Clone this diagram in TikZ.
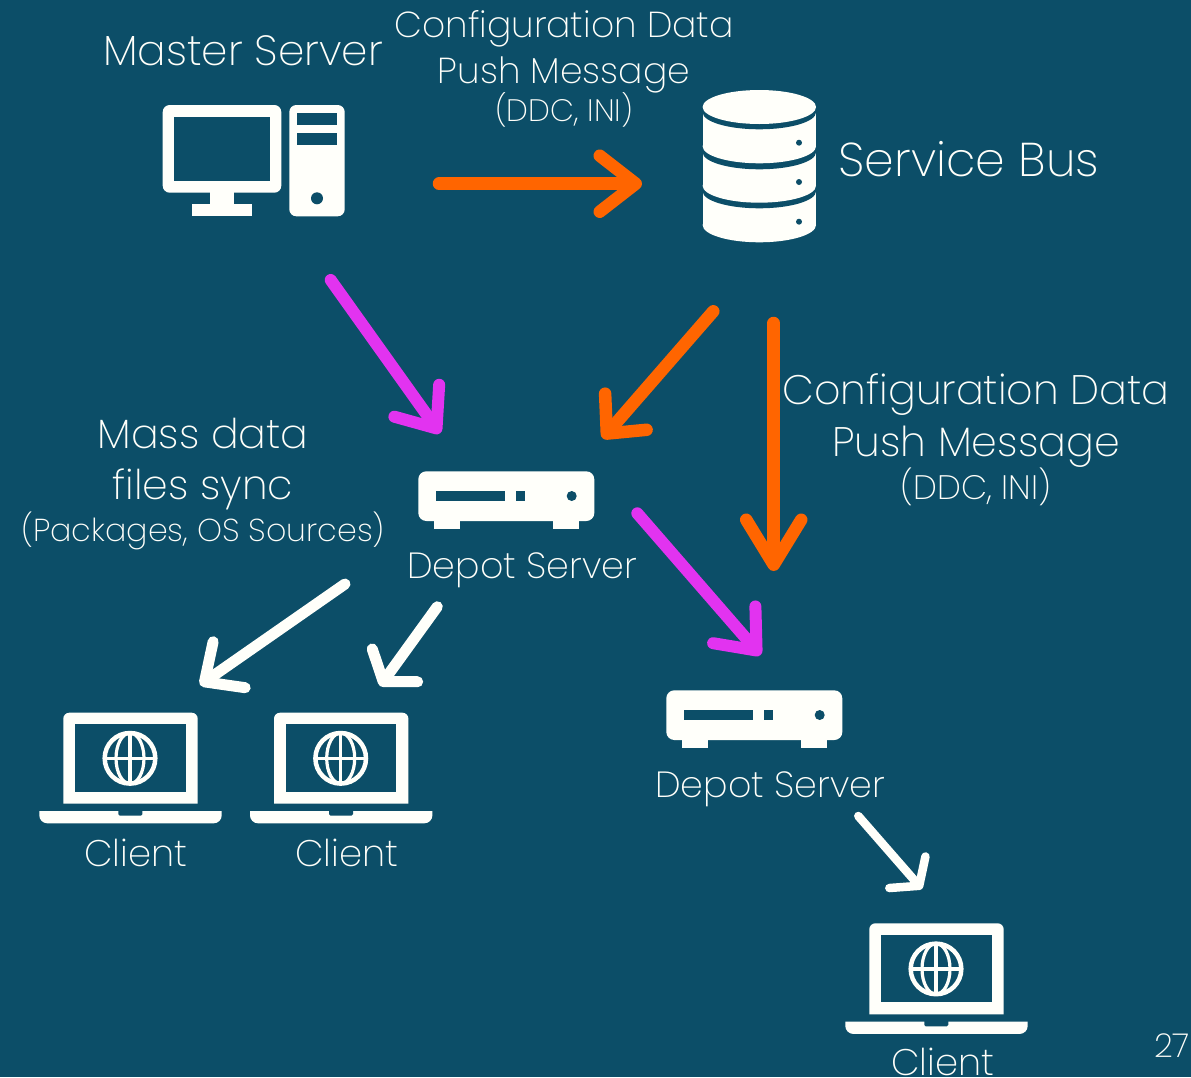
\documentclass[tikz,border=0pt]{standalone}
\usepackage{fontspec}
\setmainfont{Poppins ExtraLight}
\usetikzlibrary{arrows.meta}
\definecolor{bg}{HTML}{0C4E68}
\definecolor{ink}{HTML}{FFFFFA}
\definecolor{org}{HTML}{FF6500}
\definecolor{mag}{HTML}{E233F0}
\tikzset{
  lbl/.style={text=ink,align=center,inner sep=0pt,font=\fontsize{#1}{#1}\selectfont},
  iconbox/.style n args={2}{inner sep=0pt,minimum width=#1,minimum height=#2},
  conn/.style n args={4}{draw=#1,line width=#4,line cap=round,-{Straight Barb[length=#2,width=#3,line width=#4,round]}},
  ink fill/.style={fill=ink,draw=none},
  hole/.style={fill=bg,draw=none},
}
\newcommand\depoticon[1]{\begin{scope}[shift={#1}]
  \fill[ink fill] (434,515) rectangle (460.3,529);
  \fill[ink fill] (552.7,515) rectangle (578.7,529);
  \fill[ink fill,rounded corners=8pt] (418.3,471.3) rectangle (594.3,521);
  \fill[hole] (436.3,491.3) rectangle (505.3,501);
  \fill[hole] (515.7,491.3) rectangle (525,501);
  \fill[hole] (571.7,496) circle (5);
\end{scope}}
\newcommand\laptopicon[1]{\begin{scope}[shift={#1}]
  \fill[ink fill] (63.3,803.7) [rounded corners=6pt] -- (63.3,712.7) -- (197.7,712.7) [sharp corners] -- (197.7,803.7) -- cycle;
  \fill[hole] (75,724.3) rectangle (185.7,791.7);
  \draw[ink,line width=4.5pt] (130,758.3) circle (25.3);
  \draw[ink,line width=3.2pt] (130,758.3) ellipse (14 and 25.3);
  \draw[ink,line width=3.2pt] (130,733) -- (130,783.6);
  \draw[ink,line width=3.2pt] (104.7,758.3) -- (155.3,758.3);
  \fill[ink fill] (39.3,811) -- (221.7,811) [rounded corners=8pt] -- (221.7,823.3) -- (39.3,823.3) [sharp corners] -- cycle;
  \fill[hole,rounded corners=1.5pt] (118.3,809) rectangle (142.3,815.7);
\end{scope}}
\begin{document}
\begin{tikzpicture}[x=1pt,y=-1pt]
\useasboundingbox (0,0) rectangle (1191,1077);
\fill[bg] (0,0) rectangle (1191,1077);
% icon nodes
\node[iconbox={182pt}{111pt}] (master) at (253.7,160.7) {};
\node[iconbox={113pt}{152pt}] (bus) at (759.3,166.2) {};
\node[iconbox={176pt}{58pt}] (depotA) at (506.3,500.2) {};
\node[iconbox={176pt}{58pt}] (depotB) at (754.3,719.2) {};
\node[iconbox={182pt}{111pt}] (clientA) at (130.5,768) {};
\node[iconbox={182pt}{111pt}] (clientB) at (341.2,768) {};
\node[iconbox={182pt}{111pt}] (clientC) at (936.5,978.6) {};
% master server icon
\fill[ink fill] (210.3,190) rectangle (234,206);
\fill[ink fill] (192.3,204.3) rectangle (251.7,216.3);
\fill[ink fill,rounded corners=7pt] (162.7,105) rectangle (281.3,192.7);
\fill[hole] (174.3,117) rectangle (269.7,180.7);
\fill[ink fill,rounded corners=7pt] (289.3,105) rectangle (344.7,216.3);
\fill[hole] (297,113.3) rectangle (336.7,125.3);
\fill[hole] (297,133.3) rectangle (336.7,145);
\fill[hole] (317,198.3) circle (6);
% service bus icon
\fill[ink fill] (702.7,191.3) rectangle (816,225);
\fill[ink fill] (759.3,225) ellipse (56.7 and 17.3);
\fill[hole] (759.3,191.3) ellipse (56.7 and 17);
\fill[ink fill] (702.7,152.3) rectangle (816,185.7);
\fill[ink fill] (759.3,185.7) ellipse (56.7 and 17);
\fill[hole] (759.3,152.3) ellipse (56.7 and 17);
\fill[ink fill] (702.7,112.3) rectangle (816,146.3);
\fill[ink fill] (759.3,146.3) ellipse (56.7 and 17);
\fill[hole] (759.3,112.3) ellipse (56.7 and 17);
\fill[ink fill] (759.3,107) ellipse (56.7 and 17);
\fill[hole] (799,142.7) circle (3);
\fill[hole] (799,182) circle (3);
\fill[hole] (799,221.7) circle (3);
% other icons
\depoticon{(0,0)}
\depoticon{(248,219)}
\laptopicon{(0,0)}
\laptopicon{(210.7,0)}
\laptopicon{(806,210.6)}
% labels
\node[lbl=42.2] (t1) at (243,51) {Master Server};
\node[lbl=36.1] (t2) at (564,29) {Configuration Data};
\node[lbl=36.1] (t3) at (564,75) {Push Message};
\node[lbl=31] (t4) at (564,110) {(DDC, INI)};
\node[lbl=47.4] (t5) at (969,159) {Service Bus};
\node[lbl=41.2] (t6) at (976,395) {Configuration Data};
\node[lbl=41.2] (t7) at (976,447) {Push Message};
\node[lbl=33.9] (t8) at (976,487) {(DDC, INI)};
\node[lbl=41] (t9) at (203,433) {Mass data};
\node[lbl=41] (t10) at (203,489) {files sync};
\node[lbl=31.7] (t11) at (203,531) {(Packages, OS Sources)};
\node[lbl=36.4] (t12) at (522,570) {Depot Server};
\node[lbl=36.4] (t13) at (770,789) {Depot Server};
\node[lbl=37] (t14) at (136,853) {Client};
\node[lbl=37] (t15) at (347,853) {Client};
\node[lbl=37] (t16) at (943,1061.5) {Client};
\node[lbl=33] (t17) at (1172,1046) {27};
% connector ends
\coordinate (a1) at (439,183.7); \coordinate (b1) at (642,183.7);
\coordinate (a2) at (330.7,280); \coordinate (b2) at (440,433.3);
\coordinate (a3) at (713.3,311.3); \coordinate (b3) at (602.7,438.3);
\coordinate (a4) at (773.7,323); \coordinate (b4) at (773.7,571);
\coordinate (a5) at (637.3,513.3); \coordinate (b5) at (760.5,655);
\coordinate (a6) at (345,584); \coordinate (b6) at (200,685);
\coordinate (a7) at (437.3,606.7); \coordinate (b7) at (380,686);
\coordinate (a8) at (858.3,816); \coordinate (b8) at (922,889);
% connectors
\draw[conn={org}{36pt}{56pt}{12.5pt}] (a1) -- (b1);
\draw[conn={mag}{34pt}{55pt}{12pt}] (a2) -- (b2);
\draw[conn={org}{29pt}{55pt}{12.5pt}] (a3) -- (b3);
\draw[conn={org}{45pt}{55pt}{12.5pt}] (a4) -- (b4);
\draw[conn={mag}{34pt}{56pt}{12pt}] (a5) -- (b5);
\draw[conn={ink}{30pt}{56pt}{11pt}] (a6) -- (b6);
\draw[conn={ink}{20pt}{56pt}{11pt}] (a7) -- (b7);
\draw[conn={ink}{18pt}{48pt}{8.5pt}] (a8) -- (b8);
\end{tikzpicture}
\end{document}
